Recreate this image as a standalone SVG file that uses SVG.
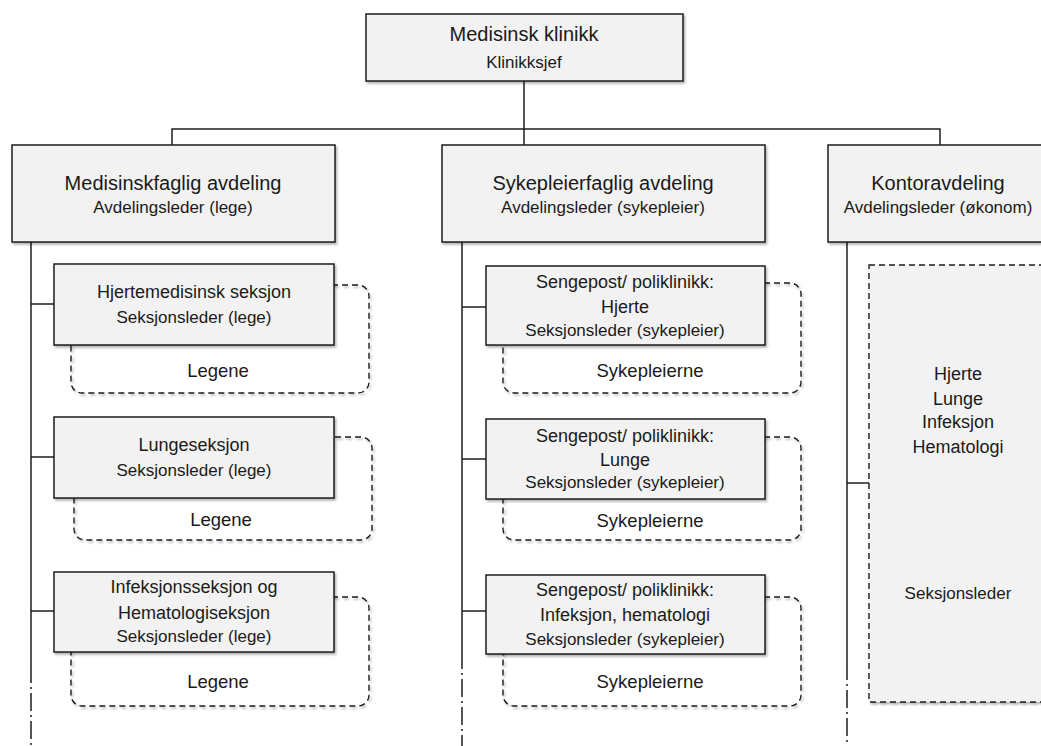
<svg xmlns="http://www.w3.org/2000/svg" width="1041" height="746" viewBox="0 0 1041 746">
<style>
  .box { fill: #f2f2f2; stroke: #1e1e1e; stroke-width: 1.5; }
  .grp { fill: none; stroke: #1e1e1e; stroke-width: 1.4; stroke-dasharray: 6 4; }
  .grpf { fill: #f2f2f2; stroke: #1e1e1e; stroke-width: 1.4; stroke-dasharray: 6 4; }
  .ln { fill: none; stroke: #1e1e1e; stroke-width: 1.5; }
  .dd { fill: none; stroke: #1e1e1e; stroke-width: 1.5; stroke-dasharray: 18 4 2 4; }
  text { font-family: "Liberation Sans", Arial, sans-serif; fill: #1a1a1a; text-anchor: middle; }
  .t20 { font-size: 20px; }
  .t18 { font-size: 18px; }
  .t185 { font-size: 18.5px; }
  .t17 { font-size: 17px; }
</style>
<defs>
  <filter id="sh" x="-5%" y="-5%" width="112%" height="120%">
    <feDropShadow dx="1.5" dy="2" stdDeviation="1.2" flood-color="#000" flood-opacity="0.3"/>
  </filter>
</defs>

<g id="connectors">
  <line class="ln" x1="524" y1="81" x2="524" y2="145"/>
  <polyline class="ln" points="172,145 172,129 940,129 940,145"/>
  <line class="ln" x1="31" y1="242" x2="31" y2="665"/>
  <line class="dd" x1="31" y1="665" x2="31" y2="746"/>
  <line class="ln" x1="31" y1="304" x2="54" y2="304"/>
  <line class="ln" x1="31" y1="457" x2="54" y2="457"/>
  <line class="ln" x1="31" y1="611" x2="54" y2="611"/>
  <line class="ln" x1="462" y1="242" x2="462" y2="651"/>
  <line class="dd" x1="462" y1="651" x2="462" y2="746"/>
  <line class="ln" x1="462" y1="307" x2="486" y2="307"/>
  <line class="ln" x1="462" y1="459" x2="486" y2="459"/>
  <line class="ln" x1="462" y1="611" x2="486" y2="611"/>
  <line class="ln" x1="847" y1="242" x2="847" y2="662"/>
  <line class="dd" x1="847" y1="662" x2="847" y2="746"/>
  <line class="ln" x1="847" y1="483" x2="869" y2="483"/>
</g>

<g id="klinikk">
  <rect class="box" filter="url(#sh)" x="366" y="14" width="317" height="67"/>
  <text class="t20" x="524" y="41">Medisinsk klinikk</text>
  <text class="t17" x="524" y="68">Klinikksjef</text>
</g>

<g id="medisinskfaglig">
  <rect class="box" filter="url(#sh)" x="12" y="145" width="323" height="97"/>
  <text class="t20" x="173" y="190">Medisinskfaglig avdeling</text>
  <text class="t17" x="173" y="213">Avdelingsleder (lege)</text>
</g>

<g id="sykepleierfaglig">
  <rect class="box" filter="url(#sh)" x="442" y="145" width="323" height="97"/>
  <text class="t20" x="603" y="190">Sykepleierfaglig avdeling</text>
  <text class="t17" x="603" y="213">Avdelingsleder (sykepleier)</text>
</g>

<g id="kontoravdeling">
  <rect class="box" filter="url(#sh)" x="828" y="145" width="230" height="97"/>
  <text class="t20" x="938" y="190">Kontoravdeling</text>
  <text class="t17" x="938" y="213">Avdelingsleder (økonom)</text>
</g>

<g id="hjertemedisinsk">
  <rect class="grp" filter="url(#sh)" x="71" y="285" width="298" height="108" rx="11"/>
  <rect class="box" filter="url(#sh)" x="54" y="264" width="280" height="81"/>
  <text class="t18" x="194" y="298">Hjertemedisinsk seksjon</text>
  <text class="t17" x="194" y="323">Seksjonsleder (lege)</text>
  <text class="t185" x="218" y="377">Legene</text>
</g>

<g id="lungeseksjon">
  <rect class="grp" filter="url(#sh)" x="74" y="437" width="298" height="103" rx="11"/>
  <rect class="box" filter="url(#sh)" x="54" y="417" width="280" height="81"/>
  <text class="t18" x="194" y="451">Lungeseksjon</text>
  <text class="t17" x="194" y="476">Seksjonsleder (lege)</text>
  <text class="t185" x="221" y="526">Legene</text>
</g>

<g id="infeksjonsseksjon">
  <rect class="grp" filter="url(#sh)" x="71" y="597" width="298" height="109" rx="11"/>
  <rect class="box" filter="url(#sh)" x="54" y="572" width="280" height="80"/>
  <text class="t18" x="194" y="593">Infeksjonsseksjon og</text>
  <text class="t18" x="194" y="619">Hematologiseksjon</text>
  <text class="t17" x="194" y="642">Seksjonsleder (lege)</text>
  <text class="t185" x="218" y="688">Legene</text>
</g>

<g id="sengepost-hjerte">
  <rect class="grp" filter="url(#sh)" x="503" y="283" width="298" height="110" rx="11"/>
  <rect class="box" filter="url(#sh)" x="486" y="266" width="279" height="79"/>
  <text class="t18" x="625" y="288">Sengepost/ poliklinikk:</text>
  <text class="t18" x="625" y="313">Hjerte</text>
  <text class="t17" x="625" y="336">Seksjonsleder (sykepleier)</text>
  <text class="t185" x="650" y="377">Sykepleierne</text>
</g>

<g id="sengepost-lunge">
  <rect class="grp" filter="url(#sh)" x="503" y="437" width="298" height="103" rx="11"/>
  <rect class="box" filter="url(#sh)" x="486" y="419" width="279" height="80"/>
  <text class="t18" x="625" y="442">Sengepost/ poliklinikk:</text>
  <text class="t18" x="625" y="466">Lunge</text>
  <text class="t17" x="625" y="488">Seksjonsleder (sykepleier)</text>
  <text class="t185" x="650" y="527">Sykepleierne</text>
</g>

<g id="sengepost-infeksjon">
  <rect class="grp" filter="url(#sh)" x="503" y="597" width="298" height="109" rx="11"/>
  <rect class="box" filter="url(#sh)" x="486" y="575" width="279" height="79"/>
  <text class="t18" x="625" y="596">Sengepost/ poliklinikk:</text>
  <text class="t18" x="625" y="621">Infeksjon, hematologi</text>
  <text class="t17" x="625" y="645">Seksjonsleder (sykepleier)</text>
  <text class="t185" x="650" y="688">Sykepleierne</text>
</g>

<g id="kontor-seksjoner">
  <rect class="grpf" filter="url(#sh)" x="869" y="265" width="200" height="437"/>
  <text class="t18" x="958" y="380">Hjerte</text>
  <text class="t18" x="958" y="405">Lunge</text>
  <text class="t18" x="958" y="428">Infeksjon</text>
  <text class="t18" x="958" y="453">Hematologi</text>
  <text class="t17" x="958" y="599">Seksjonsleder</text>
</g>
</svg>
